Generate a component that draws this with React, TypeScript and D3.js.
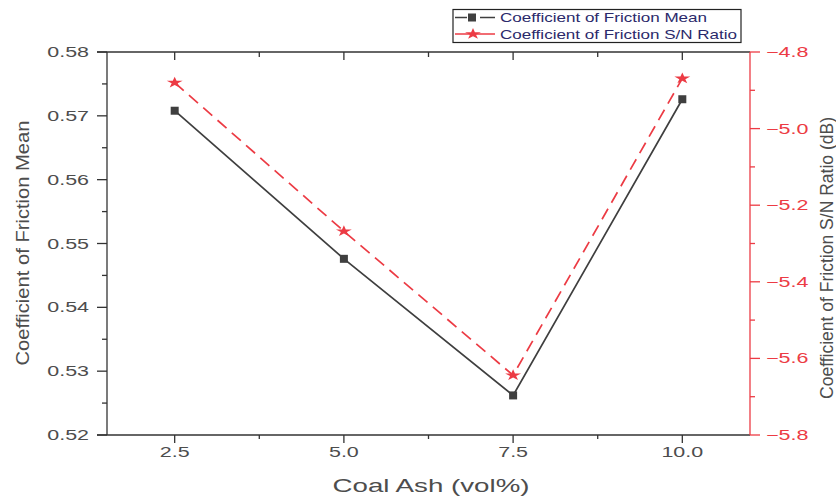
import React from "react";
import * as d3 from "d3";

// Coal ash content (vol%)
const coalAsh = [2.5, 5.0, 7.5, 10.0];
// Coefficient of friction mean values
const cofMean = [0.5708, 0.5476, 0.5262, 0.5726];
// Signal-to-noise ratio (dB)
const cofSN = [-4.88, -5.268, -5.644, -4.869];

const xTicks = [2.5, 5.0, 7.5, 10.0];
const xMinorTicks = [3.75, 6.25, 8.75];
const leftTicks = [0.52, 0.53, 0.54, 0.55, 0.56, 0.57, 0.58];
const leftMinorTicks = [0.525, 0.535, 0.545, 0.555, 0.565, 0.575];
const rightTicks = [-5.8, -5.6, -5.4, -5.2, -5.0, -4.8];
const rightMinorTicks = [-5.7, -5.5, -5.3, -5.1, -4.9];

const W = 836;
const H = 497;
const plot = { left: 107, right: 750, top: 52, bottom: 435 };
const RED = "#ec3b44";
const DARK = "#3f3f3f";
const AXIS = "#333";
const LABEL = "#4d4d4d";
const FONT = "'Liberation Sans', Arial, sans-serif";
const STRETCH = 1.48;

export default function App() {
  const x = d3.scaleLinear().domain([1.5, 11]).range([plot.left, plot.right]);
  const yL = d3.scaleLinear().domain([0.52, 0.58]).range([plot.bottom, plot.top]);
  const yR = d3.scaleLinear().domain([-5.8, -4.8]).range([plot.bottom, plot.top]);

  const meanLine = d3
    .line<number>()
    .x((_, i) => x(coalAsh[i]))
    .y((d) => yL(d))(cofMean);
  const snLine = d3
    .line<number>()
    .x((_, i) => x(coalAsh[i]))
    .y((d) => yR(d))(cofSN);

  const star = d3.symbol().type(d3.symbolStar).size(40)()!;

  const stretchedText = (
    tx: number,
    ty: number,
    label: string,
    anchor: "start" | "middle" | "end",
    fill: string,
    size = 14.5
  ) => (
    <text
      key={label + tx + ty}
      transform={`translate(${tx},${ty}) scale(${STRETCH},1)`}
      textAnchor={anchor}
      fontSize={size}
      fill={fill}
      fontFamily={FONT}
    >
      {label}
    </text>
  );

  return (
    <svg width={W} height={H} style={{ position: "absolute", left: 0, top: 0 }}>
      <rect width={W} height={H} fill="#fff" />

      {/* bottom axis */}
      <line x1={plot.left - 10} x2={plot.right} y1={plot.bottom} y2={plot.bottom} stroke={AXIS} strokeWidth={1.3} />
      {xTicks.map((t) => (
        <line key={"bx" + t} x1={x(t)} x2={x(t)} y1={plot.bottom} y2={plot.bottom + 8} stroke={AXIS} strokeWidth={1.3} />
      ))}
      {xMinorTicks.map((t) => (
        <line key={"bxm" + t} x1={x(t)} x2={x(t)} y1={plot.bottom} y2={plot.bottom + 4} stroke={AXIS} strokeWidth={1.3} />
      ))}
      {xTicks.map((t) => stretchedText(x(t), plot.bottom + 22, d3.format(".1f")(t), "middle", LABEL))}

      {/* top axis */}
      <line x1={plot.left - 10} x2={plot.right} y1={plot.top} y2={plot.top} stroke={AXIS} strokeWidth={1.3} />
      {xTicks.map((t) => (
        <line key={"tx" + t} x1={x(t)} x2={x(t)} y1={plot.top} y2={plot.top + 8} stroke={AXIS} strokeWidth={1.3} />
      ))}
      {xMinorTicks.map((t) => (
        <line key={"txm" + t} x1={x(t)} x2={x(t)} y1={plot.top} y2={plot.top + 5} stroke={AXIS} strokeWidth={1.3} />
      ))}

      {/* left axis */}
      <line x1={plot.left} x2={plot.left} y1={plot.top} y2={plot.bottom} stroke={AXIS} strokeWidth={1.3} />
      {leftTicks.map((t) => (
        <line key={"l" + t} x1={plot.left - 10} x2={plot.left} y1={yL(t)} y2={yL(t)} stroke={AXIS} strokeWidth={1.3} />
      ))}
      {leftMinorTicks.map((t) => (
        <line key={"lm" + t} x1={plot.left - 5} x2={plot.left} y1={yL(t)} y2={yL(t)} stroke={AXIS} strokeWidth={1.3} />
      ))}
      {leftTicks.map((t) => stretchedText(plot.left - 18, yL(t) + 5, d3.format(".2f")(t), "end", LABEL))}

      {/* right axis */}
      <line x1={plot.right} x2={plot.right} y1={plot.top} y2={plot.bottom} stroke={RED} strokeWidth={1.3} />
      {rightTicks.map((t) => (
        <line key={"r" + t} x1={plot.right} x2={plot.right + 10} y1={yR(t)} y2={yR(t)} stroke={RED} strokeWidth={1.3} />
      ))}
      {rightMinorTicks.map((t) => (
        <line key={"rm" + t} x1={plot.right} x2={plot.right + 5} y1={yR(t)} y2={yR(t)} stroke={RED} strokeWidth={1.3} />
      ))}
      {rightTicks.map((t) => stretchedText(plot.right + 16, yR(t) + 5, d3.format(".1f")(t).replace("-", "\u2212"), "start", RED))}

      {/* axis titles */}
      <text
        x={431}
        y={492}
        textAnchor="middle"
        fontSize={18}
        fill={LABEL}
        fontFamily={FONT}
        textLength={197}
        lengthAdjust="spacingAndGlyphs"
      >
        Coal Ash (vol%)
      </text>
      <text
        transform={`translate(29,243) rotate(-90)`}
        textAnchor="middle"
        fontSize={18}
        fill={LABEL}
        fontFamily={FONT}
        textLength={245}
        lengthAdjust="spacingAndGlyphs"
      >
        Coefficient of Friction Mean
      </text>
      <text
        transform={`translate(833,258) rotate(-90)`}
        textAnchor="middle"
        fontSize={18}
        fill={LABEL}
        fontFamily={FONT}
        textLength={282}
        lengthAdjust="spacingAndGlyphs"
      >
        Coefficient of Friction S/N Ratio (dB)
      </text>

      {/* series */}
      <path d={meanLine ?? ""} fill="none" stroke={DARK} strokeWidth={1.7} />
      <path d={snLine ?? ""} fill="none" stroke={RED} strokeWidth={1.7} strokeDasharray="12,7" />
      {cofMean.map((v, i) => (
        <rect key={"m" + i} x={x(coalAsh[i]) - 4} y={yL(v) - 4} width={8} height={8} fill={DARK} />
      ))}
      {cofSN.map((v, i) => (
        <path key={"s" + i} d={star} transform={`translate(${x(coalAsh[i])},${yR(v)}) scale(1.4,1)`} fill={RED} />
      ))}

      {/* legend */}
      <rect x={453} y={9.5} width={288} height={33} fill="#fff" stroke="#222" strokeWidth={1.2} />
      <line x1={455} x2={467} y1={17.5} y2={17.5} stroke={DARK} strokeWidth={1.5} />
      <rect x={468} y={13.5} width={8} height={8} fill={DARK} />
      <line x1={480} x2={495} y1={17.5} y2={17.5} stroke={DARK} strokeWidth={1.5} />
      <text x={500} y={22} fontSize={13} fill="#2b2a6b" fontFamily={FONT} textLength={207} lengthAdjust="spacingAndGlyphs">
        Coefficient of Friction Mean
      </text>
      <line x1={455} x2={495} y1={34} y2={34} stroke={RED} strokeWidth={1.3} />
      <path d={star} transform={`translate(473,34) scale(1.4,1)`} fill={RED} />
      <text x={500} y={38.5} fontSize={13} fill="#2b2a6b" fontFamily={FONT} textLength={237} lengthAdjust="spacingAndGlyphs">
        Coefficient of Friction S/N Ratio
      </text>
    </svg>
  );
}
